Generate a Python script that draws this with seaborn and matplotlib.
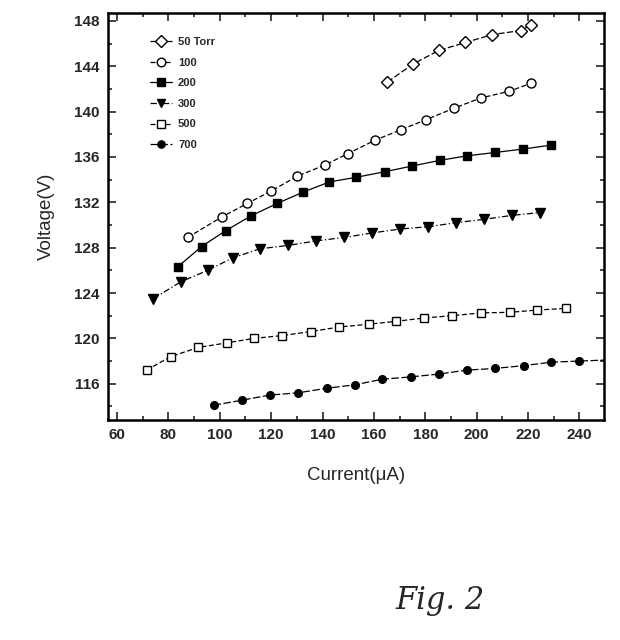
import matplotlib
matplotlib.use("Agg")
import matplotlib.pyplot as plt
import seaborn as sns
import numpy as np
import pandas as pd
from matplotlib.ticker import MultipleLocator

# ---- data ----
labels = ["50 Torr", "100", "200", "300", "500", "700"]

x_50 = [165.2, 175.2, 185.3, 195.6, 206.1, 217.1, 221.0]
y_50 = [142.6, 144.2, 145.4, 146.1, 146.8, 147.15, 147.65]

x_100 = [87.5, 100.7, 110.7, 120.0, 130.1, 141.0, 149.9, 160.6, 170.5, 180.4, 191.1, 201.5, 212.7, 221.1]
y_100 = [128.9, 130.7, 131.9, 133.0, 134.3, 135.3, 136.3, 137.5, 138.4, 139.3, 140.3, 141.2, 141.8, 142.5]

x_200 = [83.6, 92.9, 102.3, 112.1, 122.3, 132.4, 142.7, 152.9, 164.2, 174.8, 185.6, 196.1, 207.2, 218.0, 229.0]
y_200 = [126.3, 128.1, 129.5, 130.8, 131.9, 132.9, 133.8, 134.2, 134.7, 135.2, 135.7, 136.1, 136.4, 136.7, 137.05]

x_300 = [74.1, 84.9, 95.3, 105.0, 115.6, 126.6, 137.5, 148.4, 159.3, 170.3, 181.2, 191.9, 202.8, 213.7, 224.7]
y_300 = [123.5, 125.0, 126.0, 127.1, 127.9, 128.2, 128.6, 128.9, 129.3, 129.65, 129.85, 130.2, 130.5, 130.85, 131.1]

x_500 = [71.5, 81.0, 91.6, 102.7, 113.3, 124.4, 135.4, 146.4, 158.0, 168.5, 179.5, 190.5, 201.8, 213.1, 223.6, 234.8]
y_500 = [117.2, 118.4, 119.2, 119.6, 120.0, 120.25, 120.6, 121.0, 121.25, 121.5, 121.8, 122.0, 122.25, 122.3, 122.5, 122.65]

x_700 = [97.6, 108.7, 119.5, 130.6, 141.6, 152.5, 163.3, 174.3, 185.2, 196.1, 207.2, 218.4, 229.1, 240.0, 251.5]
y_700 = [114.1, 114.55, 115.0, 115.2, 115.6, 115.9, 116.4, 116.6, 116.85, 117.2, 117.35, 117.6, 117.9, 118.0, 118.1]

xs = [x_50, x_100, x_200, x_300, x_500, x_700]
ys = [y_50, y_100, y_200, y_300, y_500, y_700]

x_ticks = [60, 80, 100, 120, 140, 160, 180, 200, 220, 240]
y_ticks = [116, 120, 124, 128, 132, 136, 140, 144, 148]

# ---- styling ----
sns.set_style("ticks")
plt.rcParams["font.family"] = ["Liberation Sans", "DejaVu Sans"]

markers = ["D", "o", "s", "v", "s", "o"]
msizes = [6.0, 6.5, 5.5, 6.5, 5.5, 5.5]
filled = [False, False, True, True, False, True]
dashes = [(0, (5, 2)), (0, (4, 2)), "-", (0, (5, 2, 1, 2)), (0, (4, 2)), (0, (6, 2))]

fig = plt.figure(figsize=(6.2, 6.4), dpi=100)
ax = fig.add_axes([0.1742, 0.34375, 0.7998, 0.6359])

for lab, x, y, m, ms, f, ls in zip(labels, xs, ys, markers, msizes, filled, dashes):
    df = pd.DataFrame({"x": x, "y": y})
    sns.lineplot(data=df, x="x", y="y", ax=ax, color="black", lw=0.9,
                 linestyle=ls, marker=m, markersize=ms,
                 markerfacecolor="black" if f else "white",
                 markeredgecolor="black", markeredgewidth=1.0,
                 label=lab, sort=False)

ax.set_xlim(56.5, 249.5)
ax.set_ylim(112.8, 148.7)
ax.set_xticks(x_ticks)
ax.set_yticks(y_ticks)
ax.xaxis.set_minor_locator(MultipleLocator(10))
ax.yaxis.set_minor_locator(MultipleLocator(2))
ax.tick_params(which="both", direction="in", top=True, right=True, width=1.2)
ax.tick_params(which="major", length=6, labelsize=11, pad=6)
ax.tick_params(which="minor", length=3)
for lab in ax.get_xticklabels() + ax.get_yticklabels():
    lab.set_fontweight("bold")
for s in ax.spines.values():
    s.set_linewidth(1.8)
    s.set_color("black")

ax.set_xlabel("Current(\u03bcA)", fontsize=13.5, labelpad=18)
ax.set_ylabel("Voltage(V)", fontsize=13.5, labelpad=14)

leg = ax.legend(loc="upper left", bbox_to_anchor=(0.065, 0.965), frameon=False,
                handlelength=2.0, handletextpad=0.5, labelspacing=0.95,
                markerscale=0.95, prop={"size": 8, "weight": "bold"})

fig.text(0.71, 0.062, "Fig. 2", fontsize=22, fontstyle="italic",
         family=["DejaVu Serif"], ha="center", va="center")

fig.savefig("out.png", dpi=100, facecolor="white")
